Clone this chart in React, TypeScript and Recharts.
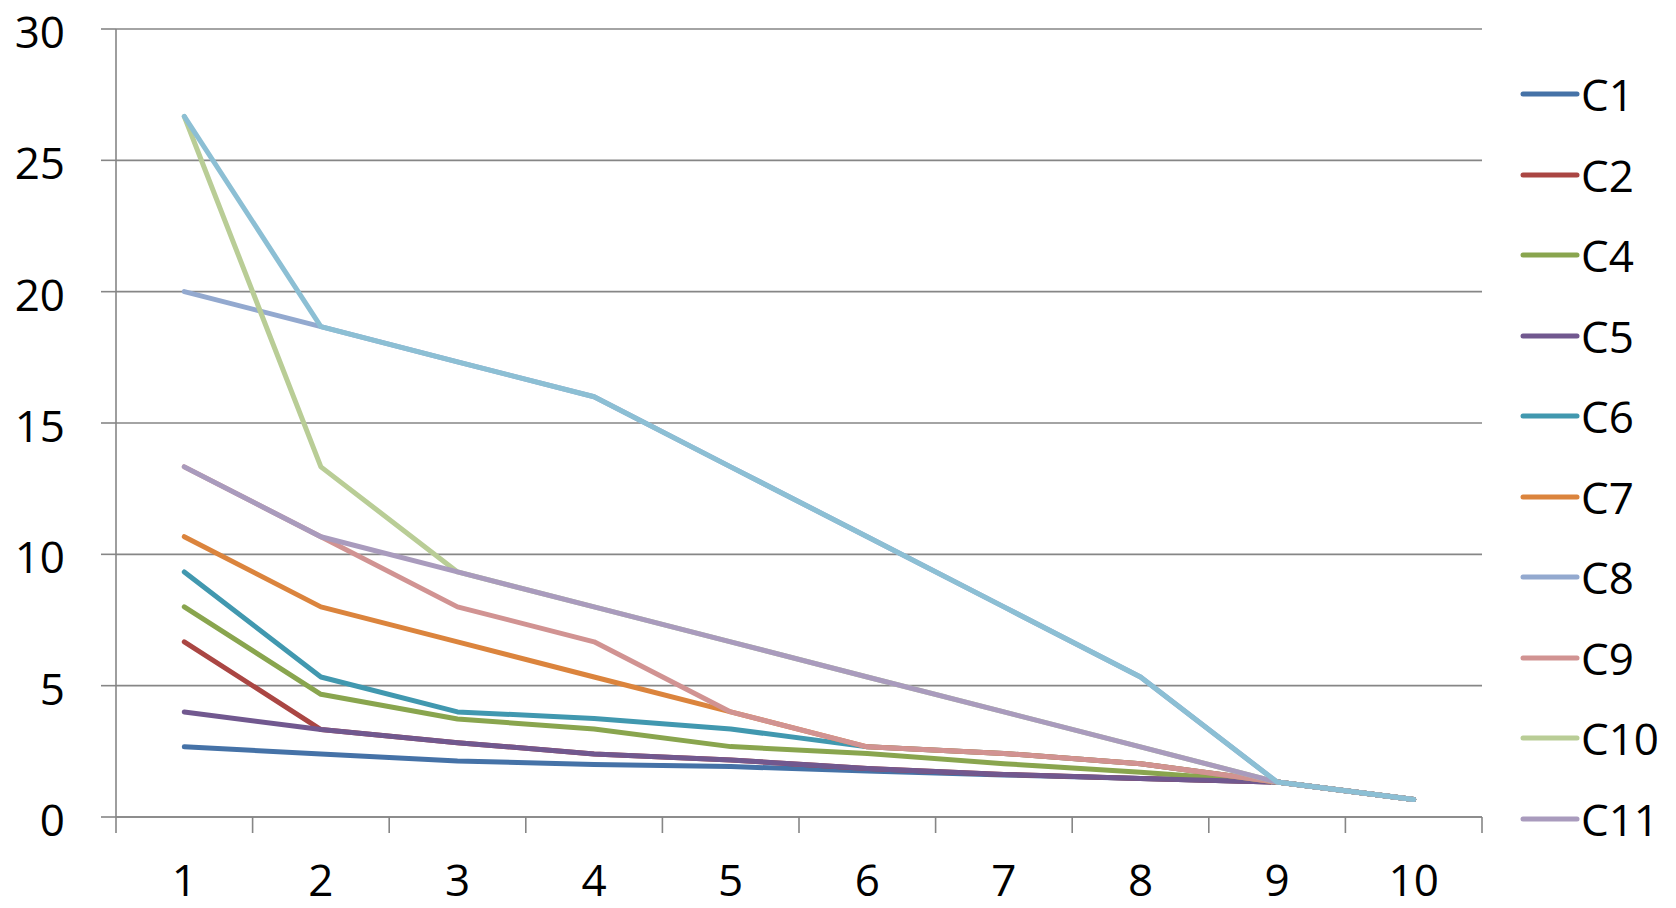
import React from 'react';
import { LineChart, Line, XAxis, YAxis, CartesianGrid, Legend } from 'recharts';

const categories = [1, 2, 3, 4, 5, 6, 7, 8, 9, 10];
const yTicks = [0, 5, 10, 15, 20, 25, 30];

const c1 = [2.67, 2.4, 2.13, 2.0, 1.92, 1.75, 1.6, 1.47, 1.33, 0.67];
const c2 = [6.67, 3.33, 2.83, 2.4, 2.17, 1.85, 1.62, 1.47, 1.33, 0.67];
const c4 = [8.0, 4.67, 3.73, 3.35, 2.68, 2.42, 2.03, 1.7, 1.33, 0.67];
const c5 = [4.0, 3.33, 2.83, 2.4, 2.17, 1.85, 1.62, 1.47, 1.33, 0.67];
const c6 = [9.33, 5.33, 4.0, 3.75, 3.35, 2.67, 2.42, 2.03, 1.33, 0.67];
const c7 = [10.67, 8.0, 6.67, 5.33, 4.0, 2.67, 2.42, 2.03, 1.33, 0.67];
const c8 = [20.0, 18.67, 17.33, 16.0, 13.33, 10.67, 8.0, 5.33, 1.33, 0.67];
const c9 = [13.33, 10.67, 8.0, 6.67, 4.0, 2.67, 2.42, 2.03, 1.33, 0.67];
const c10 = [26.67, 13.33, 9.33, 8.0, 6.67, 5.33, 4.0, 2.67, 1.33, 0.67];
const c11 = [13.33, 10.67, 9.33, 8.0, 6.67, 5.33, 4.0, 2.67, 1.33, 0.67];
const c12 = [26.67, 18.67, 17.33, 16.0, 13.33, 10.67, 8.0, 5.33, 1.33, 0.67];

const series = [
  { key: 'C1', values: c1, color: '#4572A7', legend: true },
  { key: 'C2', values: c2, color: '#AA4643', legend: true },
  { key: 'C4', values: c4, color: '#89A54E', legend: true },
  { key: 'C5', values: c5, color: '#71588F', legend: true },
  { key: 'C6', values: c6, color: '#4198AF', legend: true },
  { key: 'C7', values: c7, color: '#DB843D', legend: true },
  { key: 'C8', values: c8, color: '#93A9CF', legend: true },
  { key: 'C9', values: c9, color: '#D19392', legend: true },
  { key: 'C10', values: c10, color: '#B9CD96', legend: true },
  { key: 'C11', values: c11, color: '#A99BBD', legend: true },
  { key: 'C12', values: c12, color: '#8CBFD4', legend: false },
];

const data = categories.map((x, i) => {
  const row: any = { x };
  series.forEach((s) => { row[s.key] = s.values[i]; });
  return row;
});

// tick marks sit between categories, labels on the categories
const boundaries = [categories[0] - 0.5, ...categories.map((c) => c + 0.5)];
const xTicks = [...boundaries, ...categories].sort((a, b) => a - b);

const FONT = "'Open Sans', sans-serif";
const AXIS = '#868686';

const XTick = (props: any) => {
  const { x, y, payload } = props;
  if (Number.isInteger(payload.value)) {
    return (
      <text x={x} y={y + 48} dy="0.71em" textAnchor="middle" fontSize={44} fontFamily={FONT} fill="#000">
        {payload.value}
      </text>
    );
  }
  return <line x1={x} x2={x} y1={y} y2={y + 16} stroke={AXIS} strokeWidth={1.6} />;
};

const YTick = (props: any) => {
  const { x, y, payload } = props;
  return (
    <text x={x} y={y} dy={19} textAnchor="end" fontSize={44} fontFamily={FONT} fill="#000">
      {payload.value}
    </text>
  );
};

const LegendBox = () => (
  <div style={{ fontFamily: FONT }}>
    {series.filter((s) => s.legend).map((s) => (
      <div key={s.key} style={{ height: 80.5, display: 'flex', alignItems: 'center' }}>
        <svg width={60} height={10} style={{ display: 'block' }}>
          <line x1={3} x2={57} y1={5} y2={5} stroke={s.color} strokeWidth={5} strokeLinecap="round" />
        </svg>
        <span style={{ fontSize: 44, color: '#000', marginLeft: 1, lineHeight: 1 }}>{s.key}</span>
      </div>
    ))}
  </div>
);

export default function App() {
  return (
    <div style={{ position: 'absolute', left: 0, top: 0, width: 1676, height: 908, background: '#fff' }}>
      <LineChart width={1676} height={908} data={data} margin={{ top: 29, right: 194, bottom: 0, left: 0 }}>
        <CartesianGrid vertical={false} stroke={AXIS} strokeWidth={1.6} />
        <XAxis
          dataKey="x"
          type="number"
          domain={[0.5, 10.5]}
          ticks={xTicks}
          interval={0}
          height={91}
          tickLine={false}
          tickSize={0}
          tickMargin={0}
          axisLine={{ stroke: AXIS, strokeWidth: 1.6 }}
          tick={<XTick />}
        />
        <YAxis
          domain={[0, 30]}
          ticks={yTicks}
          interval={0}
          width={116}
          tickSize={15}
          tickMargin={36}
          axisLine={{ stroke: AXIS, strokeWidth: 1.6 }}
          tickLine={{ stroke: AXIS, strokeWidth: 1.6 }}
          tick={<YTick />}
        />
        <Legend
          layout="horizontal"
          verticalAlign="middle"
          content={<LegendBox />}
          wrapperStyle={{ left: 1520, top: 53.75, width: 156 }}
        />
        {series.map((s) => (
          <Line
            key={s.key}
            type="linear"
            dataKey={s.key}
            stroke={s.color}
            strokeWidth={5}
            strokeLinecap="round"
            strokeLinejoin="round"
            dot={false}
            activeDot={false}
            legendType={s.legend ? 'line' : 'none'}
            isAnimationActive={false}
          />
        ))}
      </LineChart>
    </div>
  );
}
